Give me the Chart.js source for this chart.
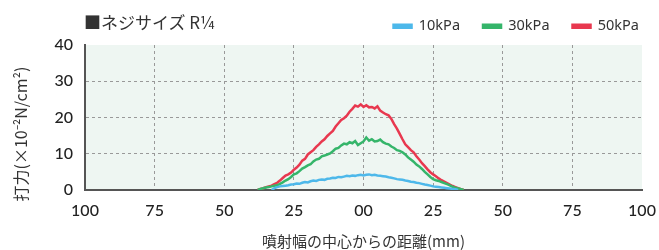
<!DOCTYPE html>
<html><head><meta charset="utf-8">
<script src="https://cdn.jsdelivr.net/npm/chart.js@4"></script>
<style>
html,body{margin:0;padding:0;background:#fff;}
#wrap{position:relative;width:659px;height:250px;}
#title{position:absolute;left:84px;top:9px;font-family:"Noto Sans CJK JP",sans-serif;font-size:17px;color:#333;white-space:nowrap;}
</style></head>
<body>
<div id="wrap">
<canvas id="c" width="659" height="250"></canvas>
<div id="title">■ネジサイズ R<span style="font-size:17px">¼</span></div>
</div>
<script>
const positions = [-38,-37,-36,-35,-34,-33,-32,-31,-30,-29,-28,-27,-26,-25,-24,-23,-22,-21,-20,-19,-18,-17,-16,-15,-14,-13,-12,-11,-10,-9,-8,-7,-6,-5,-4,-3,-2,-1,0,1,2,3,4,5,6,7,8,9,10,11,12,13,14,15,16,17,18,19,20,21,22,23,24,25,26,27,28,29,30,31,32,33,34,35,36];
const kPa10 = [null,null,null,null,null,0,0.5,0.8,1.0,1.1,1.2,1.3,1.5,1.6,1.8,1.7,2.0,2.2,2.1,2.4,2.6,2.5,2.8,2.9,2.8,3.1,3.2,3.4,3.3,3.6,3.5,3.7,3.9,3.8,4.0,3.9,4.1,4.2,4.0,4.2,4.3,4.1,4.2,4.0,3.9,3.8,3.7,3.5,3.4,3.2,3.0,2.9,2.8,2.6,2.5,2.3,2.2,2.0,1.9,1.7,1.5,1.4,1.2,1.0,0.9,0.8,0.7,0.6,0.5,0.4,0.3,0.2,0,null,null];
const kPa30 = [0,0.3,0.5,0.7,0.8,1.0,1.2,1.3,1.7,2.1,2.6,3.0,3.6,4.3,4.6,5.2,5.9,6.3,6.8,7.1,7.9,8.4,8.6,9.3,9.5,9.8,10.1,10.7,11.4,11.6,12.3,12.8,12.6,13.2,12.9,13.5,12.4,12.9,13.4,14.5,13.6,14.0,13.4,13.5,13.9,13.2,12.8,12.6,12.0,11.6,11.0,10.8,10.4,9.8,9.0,8.4,7.8,7.0,6.5,5.8,5.0,4.3,3.6,3.0,2.7,2.5,2.2,1.9,1.6,1.3,0.9,0.6,0.4,0.2,0];
const kPa50 = [0,0.3,0.5,0.8,1.0,1.2,1.6,2.0,2.6,3.3,4.0,4.3,4.8,5.6,6.2,7.0,8.1,8.6,9.8,10.4,11.0,11.9,12.6,13.4,14.0,14.9,15.6,16.3,17.5,18.4,19.3,19.8,20.5,21.6,22.4,23.3,23.0,23.6,22.9,23.4,22.8,22.9,22.5,23.1,21.9,21.4,20.9,20.6,19.6,18.2,16.9,15.5,14.0,12.6,11.8,11.0,10.4,9.3,8.4,7.4,6.6,5.7,4.9,4.3,3.8,3.2,2.7,2.3,1.9,1.5,1.1,0.8,0.5,0.2,0];
const seriesLabels = ['10kPa','30kPa','50kPa'];
const seriesColors = ['#4db8ea','#35b56a','#e8384f'];
const xTicks = [-100,-75,-50,-25,0,25,50,75,100];
const xTickLabels = ['100','75','50','25','00','25','50','75','100'];
const yTicks = [0,10,20,30,40];
const yTitle = '打力(×10⁻²N/cm²)';

const toPts = arr => positions.map((p,i)=>({x:p,y:arr[i]}));
const sets = [kPa10,kPa30,kPa50].map((arr,i)=>({
  label: seriesLabels[i], data: toPts(arr), borderColor: seriesColors[i], backgroundColor: seriesColors[i],
  borderWidth: 2.5, pointRadius: 0, tension: 0, spanGaps: false
}));

const bgPlugin = {
  id:'bg',
  beforeInit(chart){
    const lg = chart.legend;
    if (lg) {
      const orig = lg.fit.bind(lg);
      lg.fit = function(){ orig(); this.height = 45; };
    }
  },
  afterLayout(chart){
    if (chart.legend) { chart.legend.top = -4; chart.legend.left += 20; chart.legend.right += 20; }
  },
  beforeDraw(chart){
    const {ctx, chartArea:a} = chart;
    ctx.save(); ctx.fillStyle = '#eef6f2';
    ctx.fillRect(a.left, a.top, a.right-a.left, a.bottom-a.top);
    ctx.restore();
  },
  afterDraw(chart){
    const ctx = chart.ctx;
    ctx.save();
    ctx.translate(21, 134);
    ctx.rotate(-Math.PI/2);
    ctx.fillStyle = '#333';
    ctx.font = '16px "Noto Sans CJK JP", sans-serif';
    ctx.textAlign = 'center';
    ctx.textBaseline = 'middle';
    ctx.fillText(yTitle, 0, 0);
    ctx.restore();
  }
};

new Chart(document.getElementById('c'), {
  type:'line',
  data:{datasets:sets},
  plugins:[bgPlugin],
  options:{
    responsive:false, animation:false,
    layout:{padding:{top:0,right:17,left:0,bottom:0}},
    plugins:{
      legend:{position:'top', align:'end',
        labels:{boxWidth:18, boxHeight:3, padding:23, color:'#333',
          font:{family:'"Noto Sans", sans-serif', size:14.5}}},
      tooltip:{enabled:false}
    },
    scales:{
      x:{type:'linear', min:-100, max:100,
        afterBuildTicks(s){ s.ticks = xTicks.map(v=>({value:v})); },
        afterFit(s){ s.height = 60; s.paddingRight = 0; s.paddingLeft = 0; },
        ticks:{ callback:(v)=>xTickLabels[xTicks.indexOf(v)], color:'#222', padding:11,
          font:{family:'Lato, sans-serif', size:16, weight:'500'}, maxRotation:0, autoSkip:false },
        grid:{ drawTicks:false, color:(c)=>(c.tick && (c.tick.value===-100||c.tick.value===100))?'rgba(0,0,0,0)':'#999', lineWidth:1 },
        border:{ color:'#555', width:2, dash:[3,3] },
        title:{ display:true, text:'噴射幅の中心からの距離(mm)', color:'#333', padding:{top:2,bottom:0},
          font:{family:'"Noto Sans CJK JP", sans-serif', size:15} }
      },
      y:{min:0, max:40,
        afterBuildTicks(s){ s.ticks = yTicks.map(v=>({value:v})); },
        afterFit(s){ s.width = 85; },
        ticks:{ color:'#222', padding:12, font:{family:'Lato, sans-serif', size:16, weight:'500'} },
        grid:{ drawTicks:false, color:(c)=>(c.tick && (c.tick.value===0||c.tick.value===40))?'rgba(0,0,0,0)':'#999', lineWidth:1 },
        border:{ color:'#555', width:2, dash:[3,3] }
      }
    }
  }
});
</script>
</body></html>
